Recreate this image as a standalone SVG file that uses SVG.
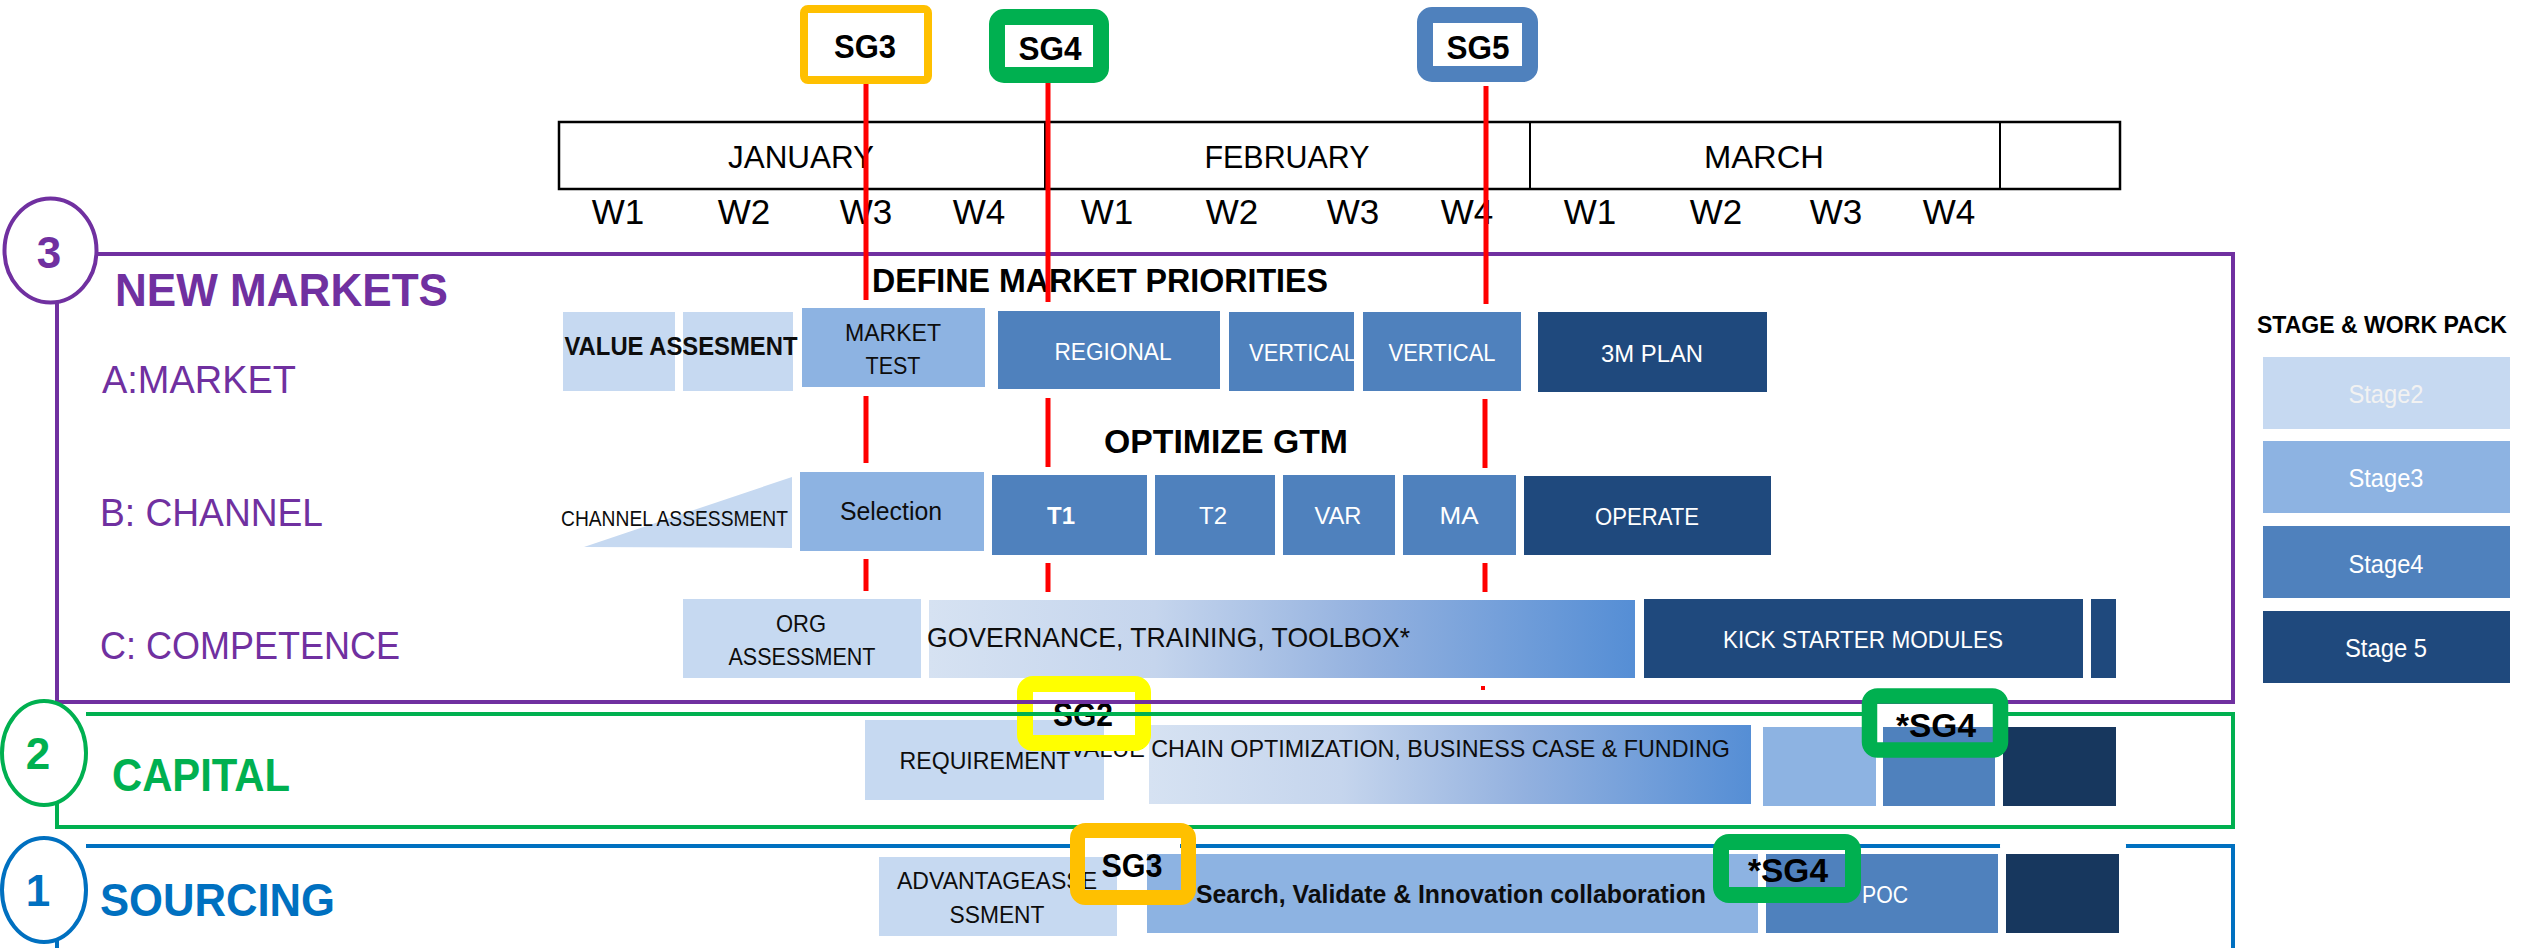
<svg xmlns="http://www.w3.org/2000/svg" width="2526" height="948" viewBox="0 0 2526 948">
  <defs>
    <linearGradient id="fade" x1="0" y1="0" x2="1" y2="0">
      <stop offset="0" stop-color="#D6E2F2"/>
      <stop offset="0.32" stop-color="#C5D5ED"/>
      <stop offset="0.62" stop-color="#93B1DF"/>
      <stop offset="1" stop-color="#558ED5"/>
    </linearGradient>
    <style>
      text { font-family: "Liberation Sans", Arial, sans-serif; }
      .c { text-anchor: middle; }
      .b { font-weight: bold; }
      .s2 { fill: #C6D9F1; }
      .s3 { fill: #8DB3E2; }
      .s4 { fill: #4F81BD; }
      .s5 { fill: #1F497D; }
      .s6 { fill: #17375E; }
      .wt { fill: #FFFFFF; }
      .bk { fill: #0D0D0D; }
      .mon { font-size: 32px; }
      .wk { font-size: 35px; }
      .gate { fill: none; }
      .gl { font-size: 34px; font-weight: bold; fill: #000; text-anchor: middle; }
      .red { stroke: #FF0000; stroke-width: 5; }
      .frame { fill: none; stroke-width: 4; }
      .box { font-size: 24px; }
    </style>
  </defs>

  <!-- timeline header -->
  <g id="timeline">
    <rect x="559" y="122" width="1561" height="67" fill="none" stroke="#000" stroke-width="2.5"/>
    <line x1="1045" y1="122" x2="1045" y2="189" stroke="#000" stroke-width="2"/>
    <line x1="1530" y1="122" x2="1530" y2="189" stroke="#000" stroke-width="2"/>
    <line x1="2000" y1="122" x2="2000" y2="189" stroke="#000" stroke-width="2"/>
    <text class="mon c" x="801" y="168" textLength="146" lengthAdjust="spacingAndGlyphs">JANUARY</text>
    <text class="mon c" x="1287" y="168" textLength="165" lengthAdjust="spacingAndGlyphs">FEBRUARY</text>
    <text class="mon c" x="1764" y="168" textLength="120" lengthAdjust="spacingAndGlyphs">MARCH</text>
    <g class="wk c">
      <text x="618" y="224">W1</text>
      <text x="744" y="224">W2</text>
      <text x="866" y="224">W3</text>
      <text x="979" y="224">W4</text>
      <text x="1107" y="224">W1</text>
      <text x="1232" y="224">W2</text>
      <text x="1353" y="224">W3</text>
      <text x="1467" y="224">W4</text>
      <text x="1590" y="224">W1</text>
      <text x="1716" y="224">W2</text>
      <text x="1836" y="224">W3</text>
      <text x="1949" y="224">W4</text>
    </g>
  </g>

  <!-- row A: market -->
  <g id="row-market">
    <rect class="s2" x="563" y="312" width="112" height="79"/>
    <rect class="s2" x="683" y="312" width="110" height="79"/>
    <text class="b bk c" x="681" y="355" font-size="25" textLength="233" lengthAdjust="spacingAndGlyphs">VALUE ASSESMENT</text>
    <rect class="s3" x="802" y="308" width="183" height="79"/>
    <text class="bk c box" x="893" y="341" textLength="96" lengthAdjust="spacingAndGlyphs">MARKET</text>
    <text class="bk c box" x="893" y="374" textLength="55" lengthAdjust="spacingAndGlyphs">TEST</text>
    <rect class="s4" x="998" y="311" width="222" height="78"/>
    <text class="wt c box" x="1113" y="360" textLength="117" lengthAdjust="spacingAndGlyphs">REGIONAL</text>
    <rect class="s4" x="1229" y="312" width="125" height="79"/>
    <text class="wt box" x="1249" y="361" textLength="107" lengthAdjust="spacingAndGlyphs">VERTICAL</text>
    <rect class="s4" x="1363" y="312" width="158" height="79"/>
    <text class="wt c box" x="1442" y="361" textLength="107" lengthAdjust="spacingAndGlyphs">VERTICAL</text>
    <rect class="s5" x="1538" y="312" width="229" height="80"/>
    <text class="wt c box" x="1652" y="362" textLength="102" lengthAdjust="spacingAndGlyphs">3M PLAN</text>
    <text class="b" x="872" y="292" font-size="33" textLength="456" lengthAdjust="spacingAndGlyphs">DEFINE MARKET PRIORITIES</text>
  </g>

  <!-- row B: channel -->
  <g id="row-channel">
    <polygon class="s2" points="792,477 792,548 584,547"/>
    <text class="bk" x="561" y="526" font-size="22" textLength="227" lengthAdjust="spacingAndGlyphs">CHANNEL ASSESSMENT</text>
    <rect class="s3" x="800" y="472" width="184" height="79"/>
    <text class="bk c" x="891" y="520" font-size="25" textLength="102" lengthAdjust="spacingAndGlyphs">Selection</text>
    <rect class="s4" x="992" y="475" width="155" height="80"/>
    <text class="wt c b box" x="1061" y="524" textLength="28" lengthAdjust="spacingAndGlyphs">T1</text>
    <rect class="s4" x="1155" y="475" width="120" height="80"/>
    <text class="wt c box" x="1213" y="524" textLength="28" lengthAdjust="spacingAndGlyphs">T2</text>
    <rect class="s4" x="1283" y="475" width="112" height="80"/>
    <text class="wt c box" x="1338" y="524" textLength="47" lengthAdjust="spacingAndGlyphs">VAR</text>
    <rect class="s4" x="1403" y="475" width="113" height="80"/>
    <text class="wt c box" x="1459" y="524" textLength="39" lengthAdjust="spacingAndGlyphs">MA</text>
    <rect class="s5" x="1524" y="476" width="247" height="79"/>
    <text class="wt c box" x="1647" y="525" textLength="104" lengthAdjust="spacingAndGlyphs">OPERATE</text>
    <text class="b" x="1104" y="453" font-size="33" textLength="244" lengthAdjust="spacingAndGlyphs">OPTIMIZE GTM</text>
  </g>

  <!-- row C: competence -->
  <g id="row-competence">
    <rect class="s2" x="683" y="599" width="238" height="79"/>
    <text class="bk c box" x="801" y="632" textLength="50" lengthAdjust="spacingAndGlyphs">ORG</text>
    <text class="bk c box" x="802" y="665" textLength="147" lengthAdjust="spacingAndGlyphs">ASSESSMENT</text>
    <rect x="929" y="600" width="706" height="78" fill="url(#fade)"/>
    <text class="bk" x="927" y="647" font-size="28" textLength="483" lengthAdjust="spacingAndGlyphs">GOVERNANCE, TRAINING, TOOLBOX*</text>
    <rect class="s5" x="1644" y="599" width="439" height="79"/>
    <text class="wt c box" x="1863" y="648" textLength="280" lengthAdjust="spacingAndGlyphs">KICK STARTER MODULES</text>
    <rect class="s5" x="2091" y="599" width="25" height="79"/>
  </g>

  <!-- capital row -->
  <g id="row-capital">
    <rect class="s2" x="865" y="720" width="239" height="80"/>
    <text class="bk c box" x="985" y="769" textLength="171" lengthAdjust="spacingAndGlyphs">REQUIREMENT</text>
    <rect x="1149" y="725" width="602" height="79" fill="url(#fade)"/>
    <text class="bk box" x="1070" y="757" textLength="660" lengthAdjust="spacingAndGlyphs">VALUE CHAIN OPTIMIZATION, BUSINESS CASE &amp; FUNDING</text>
    <rect class="s3" x="1763" y="727" width="113" height="79"/>
    <rect class="s4" x="1883" y="727" width="112" height="79"/>
    <rect class="s6" x="2003" y="727" width="113" height="79"/>
  </g>

  <!-- sourcing row -->
  <g id="row-sourcing">
    <rect class="s2" x="879" y="857" width="238" height="79"/>
    <text class="bk c box" x="997" y="889" textLength="200" lengthAdjust="spacingAndGlyphs">ADVANTAGEASSE</text>
    <text class="bk c box" x="997" y="923" textLength="95" lengthAdjust="spacingAndGlyphs">SSMENT</text>
    <rect class="s3" x="1147" y="854" width="611" height="79"/>
    <text class="bk b" x="1196" y="903" font-size="25" textLength="510" lengthAdjust="spacingAndGlyphs">Search, Validate &amp; Innovation collaboration</text>
    <rect class="s4" x="1766" y="854" width="232" height="79"/>
    <text class="wt c box" x="1885" y="903" textLength="46" lengthAdjust="spacingAndGlyphs">POC</text>
    <rect class="s6" x="2006" y="854" width="113" height="79"/>
  </g>

  <!-- gate SG2 (sits under the section frames) -->
  <g id="gate-sg2">
    <rect class="gate" x="1025" y="684" width="118" height="59" rx="8" stroke="#FFFF00" stroke-width="16"/>
    <text class="gl" x="1083" y="726" font-size="31" textLength="60" lengthAdjust="spacingAndGlyphs">SG2</text>
  </g>

  <!-- section 3: new markets -->
  <g id="section-new-markets">
    <path class="frame" d="M98 254 H2233 V702 H57 V300" stroke="#7030A0"/>
    <ellipse cx="50.5" cy="250.5" rx="46" ry="52" fill="#fff" stroke="#7030A0" stroke-width="4"/>
    <text class="b c" x="49" y="268" font-size="44" fill="#7030A0">3</text>
    <text class="b" x="115" y="306" font-size="46" fill="#7030A0" textLength="333" lengthAdjust="spacingAndGlyphs">NEW MARKETS</text>
    <text x="102" y="393" font-size="39" fill="#7030A0" textLength="194" lengthAdjust="spacingAndGlyphs">A:MARKET</text>
    <text x="100" y="526" font-size="39" fill="#7030A0" textLength="223" lengthAdjust="spacingAndGlyphs">B: CHANNEL</text>
    <text x="100" y="659" font-size="39" fill="#7030A0" textLength="300" lengthAdjust="spacingAndGlyphs">C: COMPETENCE</text>
  </g>

  <!-- section 2: capital -->
  <g id="section-capital">
    <path class="frame" d="M86 714 H2233 V827 H57 V802" stroke="#00B050"/>
    <ellipse cx="44" cy="753" rx="42" ry="52" fill="#fff" stroke="#00B050" stroke-width="4"/>
    <text class="b c" x="38" y="769" font-size="44" fill="#00B050">2</text>
    <text class="b" x="112" y="791" font-size="47" fill="#00B050" textLength="178" lengthAdjust="spacingAndGlyphs">CAPITAL</text>
  </g>

  <!-- section 1: sourcing -->
  <g id="section-sourcing">
    <path class="frame" d="M86 846 H2233 V948" stroke="#0070C0"/>
    <path class="frame" d="M57 940 V948" stroke="#0070C0"/>
    <rect x="2000" y="841" width="126" height="10" rx="4" fill="#fff"/>
    <ellipse cx="44" cy="890" rx="42" ry="52" fill="#fff" stroke="#0070C0" stroke-width="4"/>
    <text class="b c" x="38" y="906" font-size="44" fill="#0070C0">1</text>
    <text class="b" x="100" y="916" font-size="46" fill="#0070C0" textLength="235" lengthAdjust="spacingAndGlyphs">SOURCING</text>
  </g>

  <!-- gates on the capital and sourcing tracks -->
  <g id="gate-sg3-sourcing">
    <rect x="1085" y="838" width="95" height="13" fill="#fff"/>
    <rect class="gate" x="1077.5" y="830.5" width="111" height="67" rx="8" stroke="#FFC000" stroke-width="15"/>
    <text class="gl" x="1132" y="877" textLength="61" lengthAdjust="spacingAndGlyphs">SG3</text>
  </g>
  <g id="gate-sg4-capital">
    <rect x="1877" y="704" width="116" height="23" fill="#fff"/>
    <rect class="gate" x="1869.5" y="696" width="131" height="54" rx="8" stroke="#00B050" stroke-width="15.5"/>
    <text class="gl" x="1936" y="737" textLength="80" lengthAdjust="spacingAndGlyphs">*SG4</text>
  </g>
  <g id="gate-sg4-sourcing">
    <rect class="gate" x="1721" y="842" width="132" height="53" rx="8" stroke="#00B050" stroke-width="16"/>
    <text class="gl" x="1788" y="882" textLength="80" lengthAdjust="spacingAndGlyphs">*SG4</text>
  </g>

  <!-- legend -->
  <g id="legend">
    <text class="b" x="2257" y="333" font-size="23" textLength="250" lengthAdjust="spacingAndGlyphs">STAGE &amp; WORK PACK</text>
    <rect class="s2" x="2263" y="357" width="247" height="72"/>
    <text class="c" x="2386" y="403" font-size="26" fill="#F2F2F2" textLength="75" lengthAdjust="spacingAndGlyphs">Stage2</text>
    <rect class="s3" x="2263" y="441" width="247" height="72"/>
    <text class="c wt" x="2386" y="487" font-size="26" textLength="75" lengthAdjust="spacingAndGlyphs">Stage3</text>
    <rect class="s4" x="2263" y="526" width="247" height="72"/>
    <text class="c wt" x="2386" y="573" font-size="26" textLength="75" lengthAdjust="spacingAndGlyphs">Stage4</text>
    <rect class="s5" x="2263" y="611" width="247" height="72"/>
    <text class="c wt" x="2386" y="657" font-size="26" textLength="82" lengthAdjust="spacingAndGlyphs">Stage 5</text>
  </g>

  <!-- gate markers dropping through the plan -->
  <g id="connectors">
    <line class="red" x1="866" y1="84" x2="866" y2="300"/>
    <line class="red" x1="866" y1="396" x2="866" y2="463"/>
    <line class="red" x1="866" y1="559" x2="866" y2="591"/>
    <line class="red" x1="1048" y1="83" x2="1048" y2="302"/>
    <line class="red" x1="1048" y1="398" x2="1048" y2="467"/>
    <line class="red" x1="1048" y1="563" x2="1048" y2="592"/>
    <line class="red" x1="1486" y1="86" x2="1486" y2="304"/>
    <line class="red" x1="1485" y1="399" x2="1485" y2="468"/>
    <line class="red" x1="1485" y1="563" x2="1485" y2="592"/>
    <rect x="1481" y="686" width="4" height="4" fill="#FF0000"/>
  </g>

  <!-- gates above the timeline -->
  <g id="gate-sg3">
    <rect x="804" y="9" width="124" height="71" rx="4" fill="#fff" stroke="#FFC000" stroke-width="8"/>
    <text class="gl" x="865" y="58" textLength="62" lengthAdjust="spacingAndGlyphs">SG3</text>
  </g>
  <g id="gate-sg4">
    <rect x="997" y="17" width="104" height="58" rx="7" fill="#fff" stroke="#00B050" stroke-width="16"/>
    <text class="gl" x="1050" y="60" textLength="63" lengthAdjust="spacingAndGlyphs">SG4</text>
  </g>
  <g id="gate-sg5">
    <rect x="1425" y="15" width="105" height="59" rx="7" fill="#fff" stroke="#4F81BD" stroke-width="16"/>
    <text class="gl" x="1478" y="59" textLength="63" lengthAdjust="spacingAndGlyphs">SG5</text>
  </g>
</svg>
